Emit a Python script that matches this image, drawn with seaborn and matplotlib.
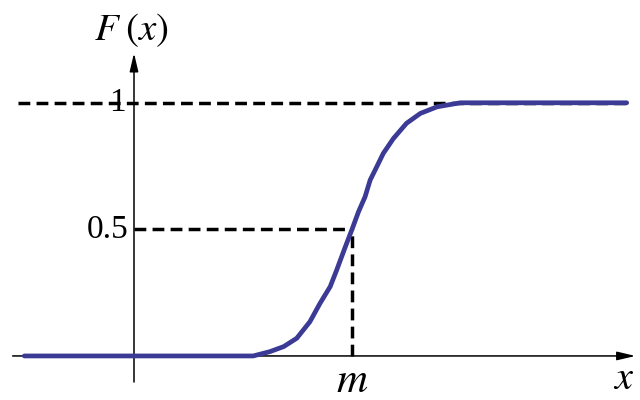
import matplotlib
matplotlib.use("Agg")
import matplotlib.pyplot as plt
import seaborn as sns

# CDF values (x in arbitrary units, m = 3)
cdf_x = [-1.51, 1.64, 1.87, 2.06, 2.24, 2.42, 2.56, 2.70, 2.79, 2.90, 3.00,
         3.09, 3.18, 3.25, 3.34, 3.43, 3.57, 3.75, 3.94, 4.17, 4.49, 6.78]
cdf_y = [0.0, 0.0, 0.017, 0.037, 0.070, 0.135, 0.208, 0.274, 0.340, 0.425, 0.5,
         0.570, 0.629, 0.695, 0.747, 0.800, 0.859, 0.919, 0.958, 0.984, 1.0, 1.0]

m_value = 3.0
levels = [0.5, 1.0]
level_labels = ["0.5", "1"]

CURVE_COLOR = "#3b3b96"

sns.set_theme(style="white")
plt.rcParams["font.family"] = ["Liberation Serif", "DejaVu Serif"]
plt.rcParams["mathtext.fontset"] = "stix"
plt.rcParams["text.color"] = "black"

fig = plt.figure(figsize=(6.4, 4.0), dpi=100)
ax = fig.add_axes([0, 0, 1, 1])
ax.set_xlim(-1.844, 6.963)
ax.set_ylim(-0.174, 1.406)
ax.axis("off")

# axes with arrow heads
arrow = dict(arrowstyle="-|>,head_length=0.55,head_width=0.13", lw=1.1,
             color="black", shrinkA=0, shrinkB=0, mutation_scale=20)
ax.annotate("", xy=(6.90, 0), xytext=(-1.67, 0), arrowprops=arrow)
ax.annotate("", xy=(0, 1.196), xytext=(0, -0.103), arrowprops=arrow)

# dashed guides
dash = dict(color="black", lw=2.5, linestyle=(0, (3.4, 1.8)))
ax.plot([-1.60, 6.83], [levels[1], levels[1]], **dash, zorder=1)
ax.plot([0, m_value], [levels[0], levels[0]], **dash, zorder=1)
ax.plot([m_value, m_value], [0, levels[0]], **dash, zorder=1)

# curve
sns.lineplot(x=cdf_x, y=cdf_y, ax=ax, color=CURVE_COLOR, lw=3.4,
             sort=False, estimator=None, zorder=3)

# labels
ax.text(-0.11, levels[1], level_labels[1], ha="right", va="center", fontsize=24)
ax.text(-0.08, levels[0], level_labels[0], ha="right", va="center", fontsize=24)
ax.text(-0.03, 1.287, r"$F\;(x)$", ha="center", va="center", fontsize=28)
ax.text(m_value, -0.10, r"$m$", ha="center", va="center", fontsize=31)
ax.text(6.74, -0.166, r"$x$", ha="center", va="bottom", fontsize=29)

fig.savefig("out.png", dpi=100)
